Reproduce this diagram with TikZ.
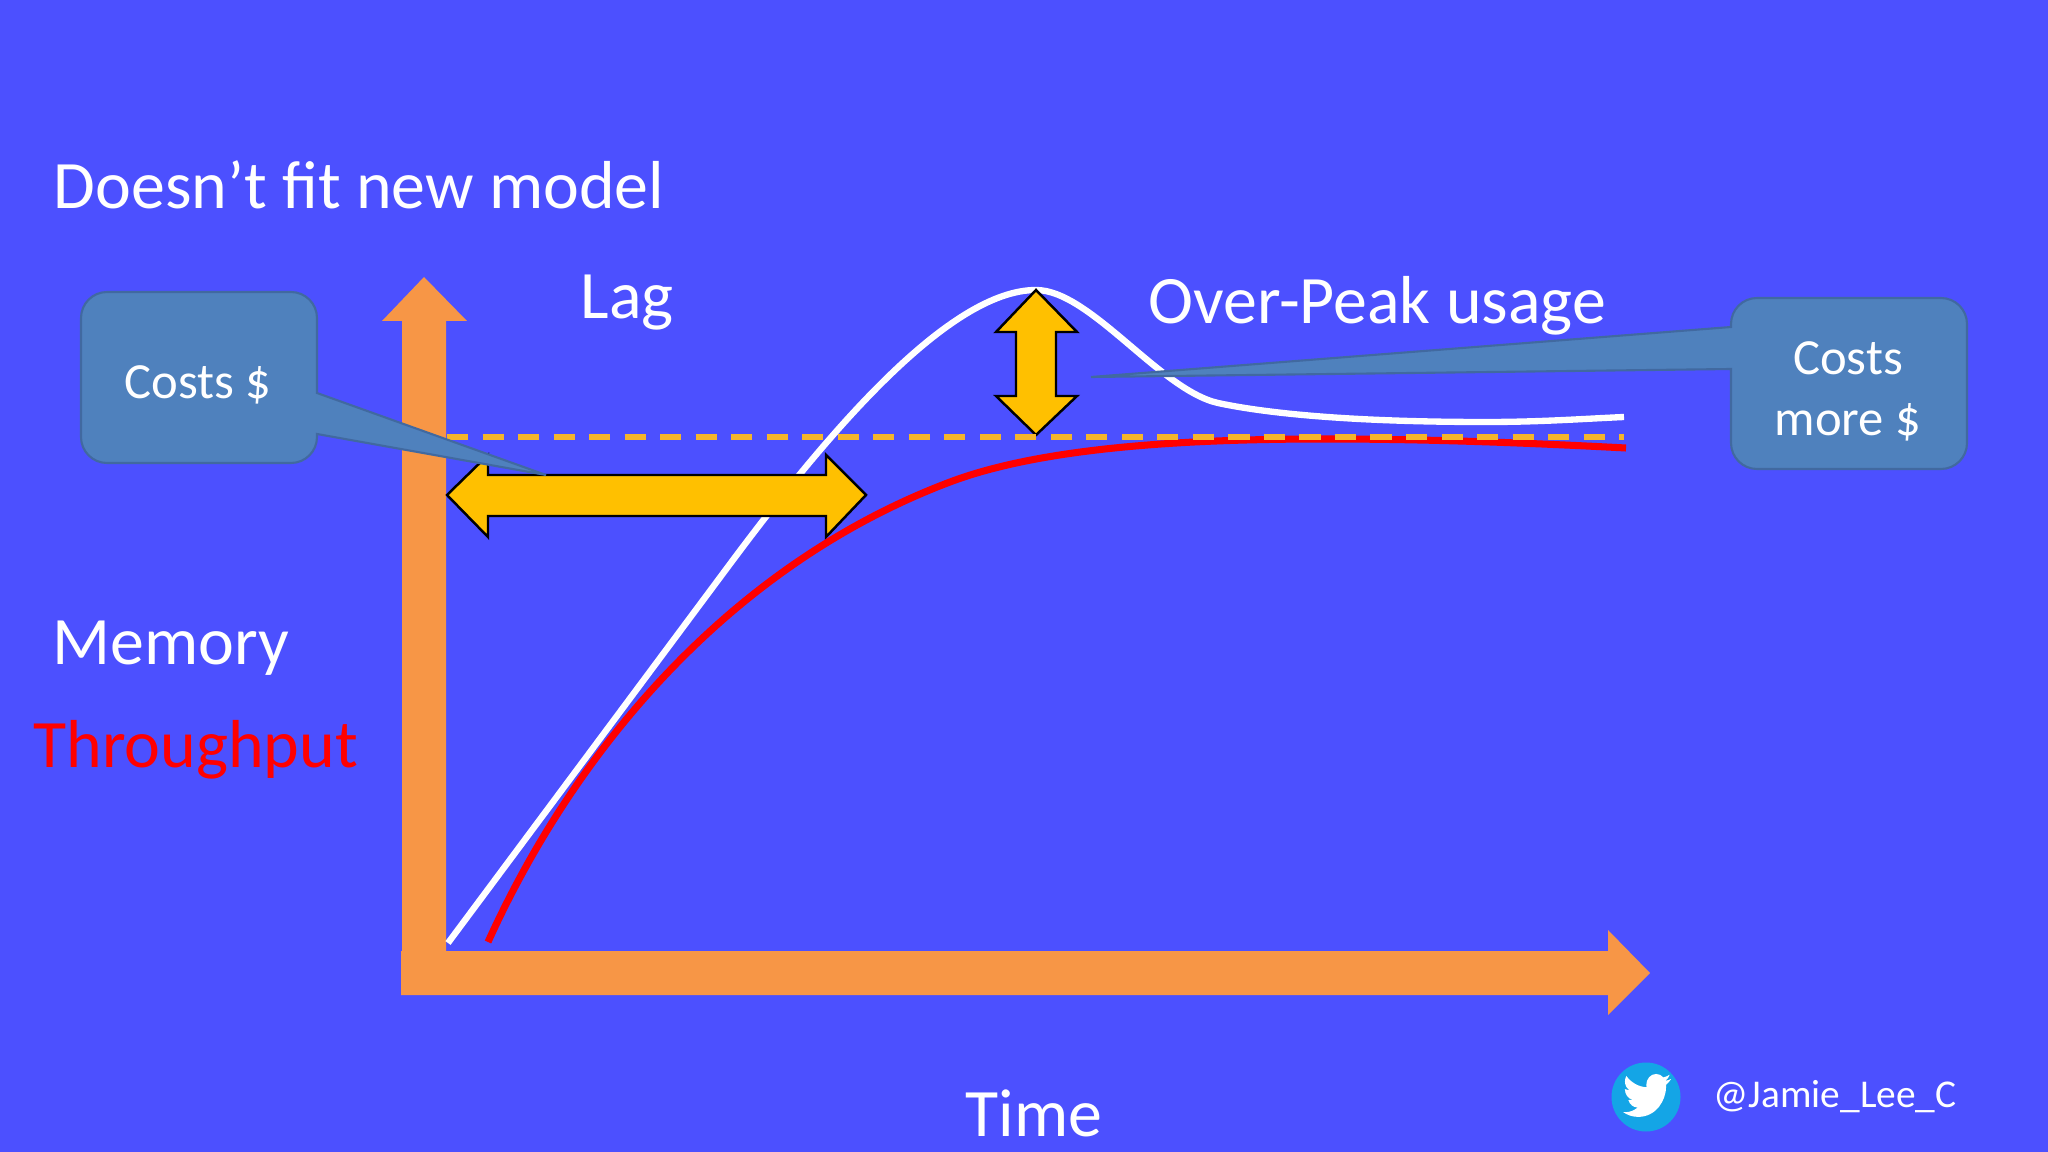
\documentclass[tikz,border=0pt]{standalone}
\usepackage{fontspec}
\setmainfont{Carlito}
\usetikzlibrary{svg.path}
\definecolor{slidebg}{RGB}{76,80,255}
\definecolor{axisorange}{RGB}{247,150,70}
\definecolor{gapgold}{RGB}{255,192,0}
\definecolor{dashgold}{RGB}{245,181,43}
\definecolor{calloutblue}{RGB}{79,129,189}
\definecolor{calloutedge}{RGB}{65,105,160}
\definecolor{birdblue}{RGB}{20,165,230}
\tikzset{
  axisarrow/.style = {fill = axisorange},
  gaparrow/.style = {fill = gapgold, draw = black, line width = 0.7pt, line join = miter},
  callout/.style = {fill = calloutblue, draw = calloutedge, line width = 0.6pt},
  bigtext/.style = {text = white, font = \fontsize{19.3}{22}\selectfont, inner sep = 0},
  smalltext/.style = {text = white, font = \fontsize{14.4}{17}\selectfont, inner sep = 0}
}
\begin{document}
\begin{tikzpicture}[x = 0.01cm, y = -0.01cm]
  \useasboundingbox[fill = slidebg] (0, 0) rectangle (2048, 1152);
  \fill[axisarrow] (402, 951) -- (402, 321) -- (382, 321) -- (424, 277) -- (467, 321) -- (446, 321) -- (446, 951) -- cycle;
  \fill[axisarrow] (401, 951) -- (1608, 951) -- (1608, 930) -- (1650, 973) -- (1608, 1015) -- (1608, 995) -- (401, 995) -- cycle;
  \draw[white, line width = 1.8pt] (448, 943) -- (733, 560) .. controls (830, 430) and (950, 290) .. (1036, 290) .. controls (1090, 290) and (1160, 390) .. (1218, 403) .. controls (1260, 412) and (1340, 422) .. (1486, 422) .. controls (1540, 422) and (1580, 419) .. (1624, 417);
  \draw[gaparrow] (447, 495) -- (488, 455) -- (488, 475) -- (826, 475) -- (826, 455) -- (866, 495) -- (826, 537) -- (826, 516) -- (488, 516) -- (488, 537) -- cycle;
  \draw[red, line width = 2pt] (488, 942) .. controls (575, 750) and (730, 565) .. (950, 482) .. controls (1040, 448) and (1180, 439) .. (1325, 439) .. controls (1430, 439) and (1530, 443) .. (1626, 448);
  \draw[gaparrow] (1036, 290) -- (1077, 332) -- (1056, 332) -- (1056, 396) -- (1077, 396) -- (1036, 435) -- (996, 396) -- (1016, 396) -- (1016, 332) -- (996, 332) -- cycle;
  \draw[dashgold, line width = 1.6pt, dash pattern = on 6pt off 4.1pt] (447, 437) -- (1624, 437);
  \draw[callout] (546, 475) -- (317, 393) -- (317, 318) arc[start angle = 0, end angle = -90, radius = 26] -- (107, 292) arc[start angle = -90, end angle = -180, radius = 26] -- (81, 437) arc[start angle = 180, end angle = 90, radius = 26] -- (291, 463) arc[start angle = 90, end angle = 0, radius = 26] -- (317, 434) -- cycle;
  \draw[callout] (1091, 377) -- (1731, 369) -- (1731, 443) arc[start angle = 180, end angle = 90, radius = 26] -- (1941, 469) arc[start angle = 90, end angle = 0, radius = 26] -- (1967, 324) arc[start angle = 0, end angle = -90, radius = 26] -- (1757, 298) arc[start angle = -90, end angle = -180, radius = 26] -- (1731, 327) -- cycle;
  \fill[birdblue] (1646, 1097) circle (34.5);
  \fill[white, shift = {(1623, 1069)}, xscale = 0.569, yscale = -0.626] svg {M 23.953 4.57 c -0.9 0.4 -1.8 0.65 -2.825 0.775 c 1 -0.6 1.8 -1.55 2.163 -2.723 c -0.951 0.555 -2.005 0.959 -3.127 1.184 c -0.9 -0.96 -2.17 -1.556 -3.594 -1.556 c -2.72 0 -4.92 2.2 -4.92 4.92 c 0 0.39 0.04 0.76 0.13 1.118 C 7.69 8.095 4.067 6.13 1.64 3.162 c -0.42 0.72 -0.666 1.57 -0.666 2.475 c 0 1.71 0.87 3.213 2.188 4.096 c -0.8 -0.03 -1.56 -0.25 -2.228 -0.616 v 0.06 c 0 2.38 1.7 4.37 3.946 4.827 c -0.71 0.19 -1.47 0.22 -2.212 0.085 c 0.64 1.98 2.47 3.38 4.604 3.417 c -1.68 1.32 -3.8 2.105 -6.102 2.105 c -0.39 0 -0.779 -0.023 -1.17 -0.067 c 2.18 1.4 4.77 2.209 7.557 2.209 c 9.053 0 13.998 -7.496 13.998 -13.985 c 0 -0.21 0 -0.42 -0.015 -0.63 c 0.96 -0.69 1.79 -1.56 2.46 -2.548 z};
  \node[bigtext, anchor = base west] (title) at (53, 209) {Doesn’t fit new model};
  \node[bigtext, anchor = base west] (lag) at (580, 319) {Lag};
  \node[bigtext, anchor = base west] (overpeak) at (1148, 324) {Over-Peak usage};
  \node[bigtext, anchor = base west] (memory) at (52, 665) {Memory};
  \node[bigtext, anchor = base west, text = red] (throughput) at (33, 767) {Throughput};
  \node[bigtext, anchor = base] (time) at (1034, 1136) {Time};
  \node[smalltext, anchor = base] (costs) at (198, 399) {Costs \$};
  \node[smalltext, anchor = base] (costsmore) at (1848, 375) {Costs};
  \node[smalltext, anchor = base] (more) at (1848, 436) {more \$};
  \node[text = white, font = \fontsize{11.2}{13}\selectfont, inner sep = 0, anchor = base west] (handle) at (1713, 1107) {@Jamie\_Lee\_C};
\end{tikzpicture}
\end{document}
